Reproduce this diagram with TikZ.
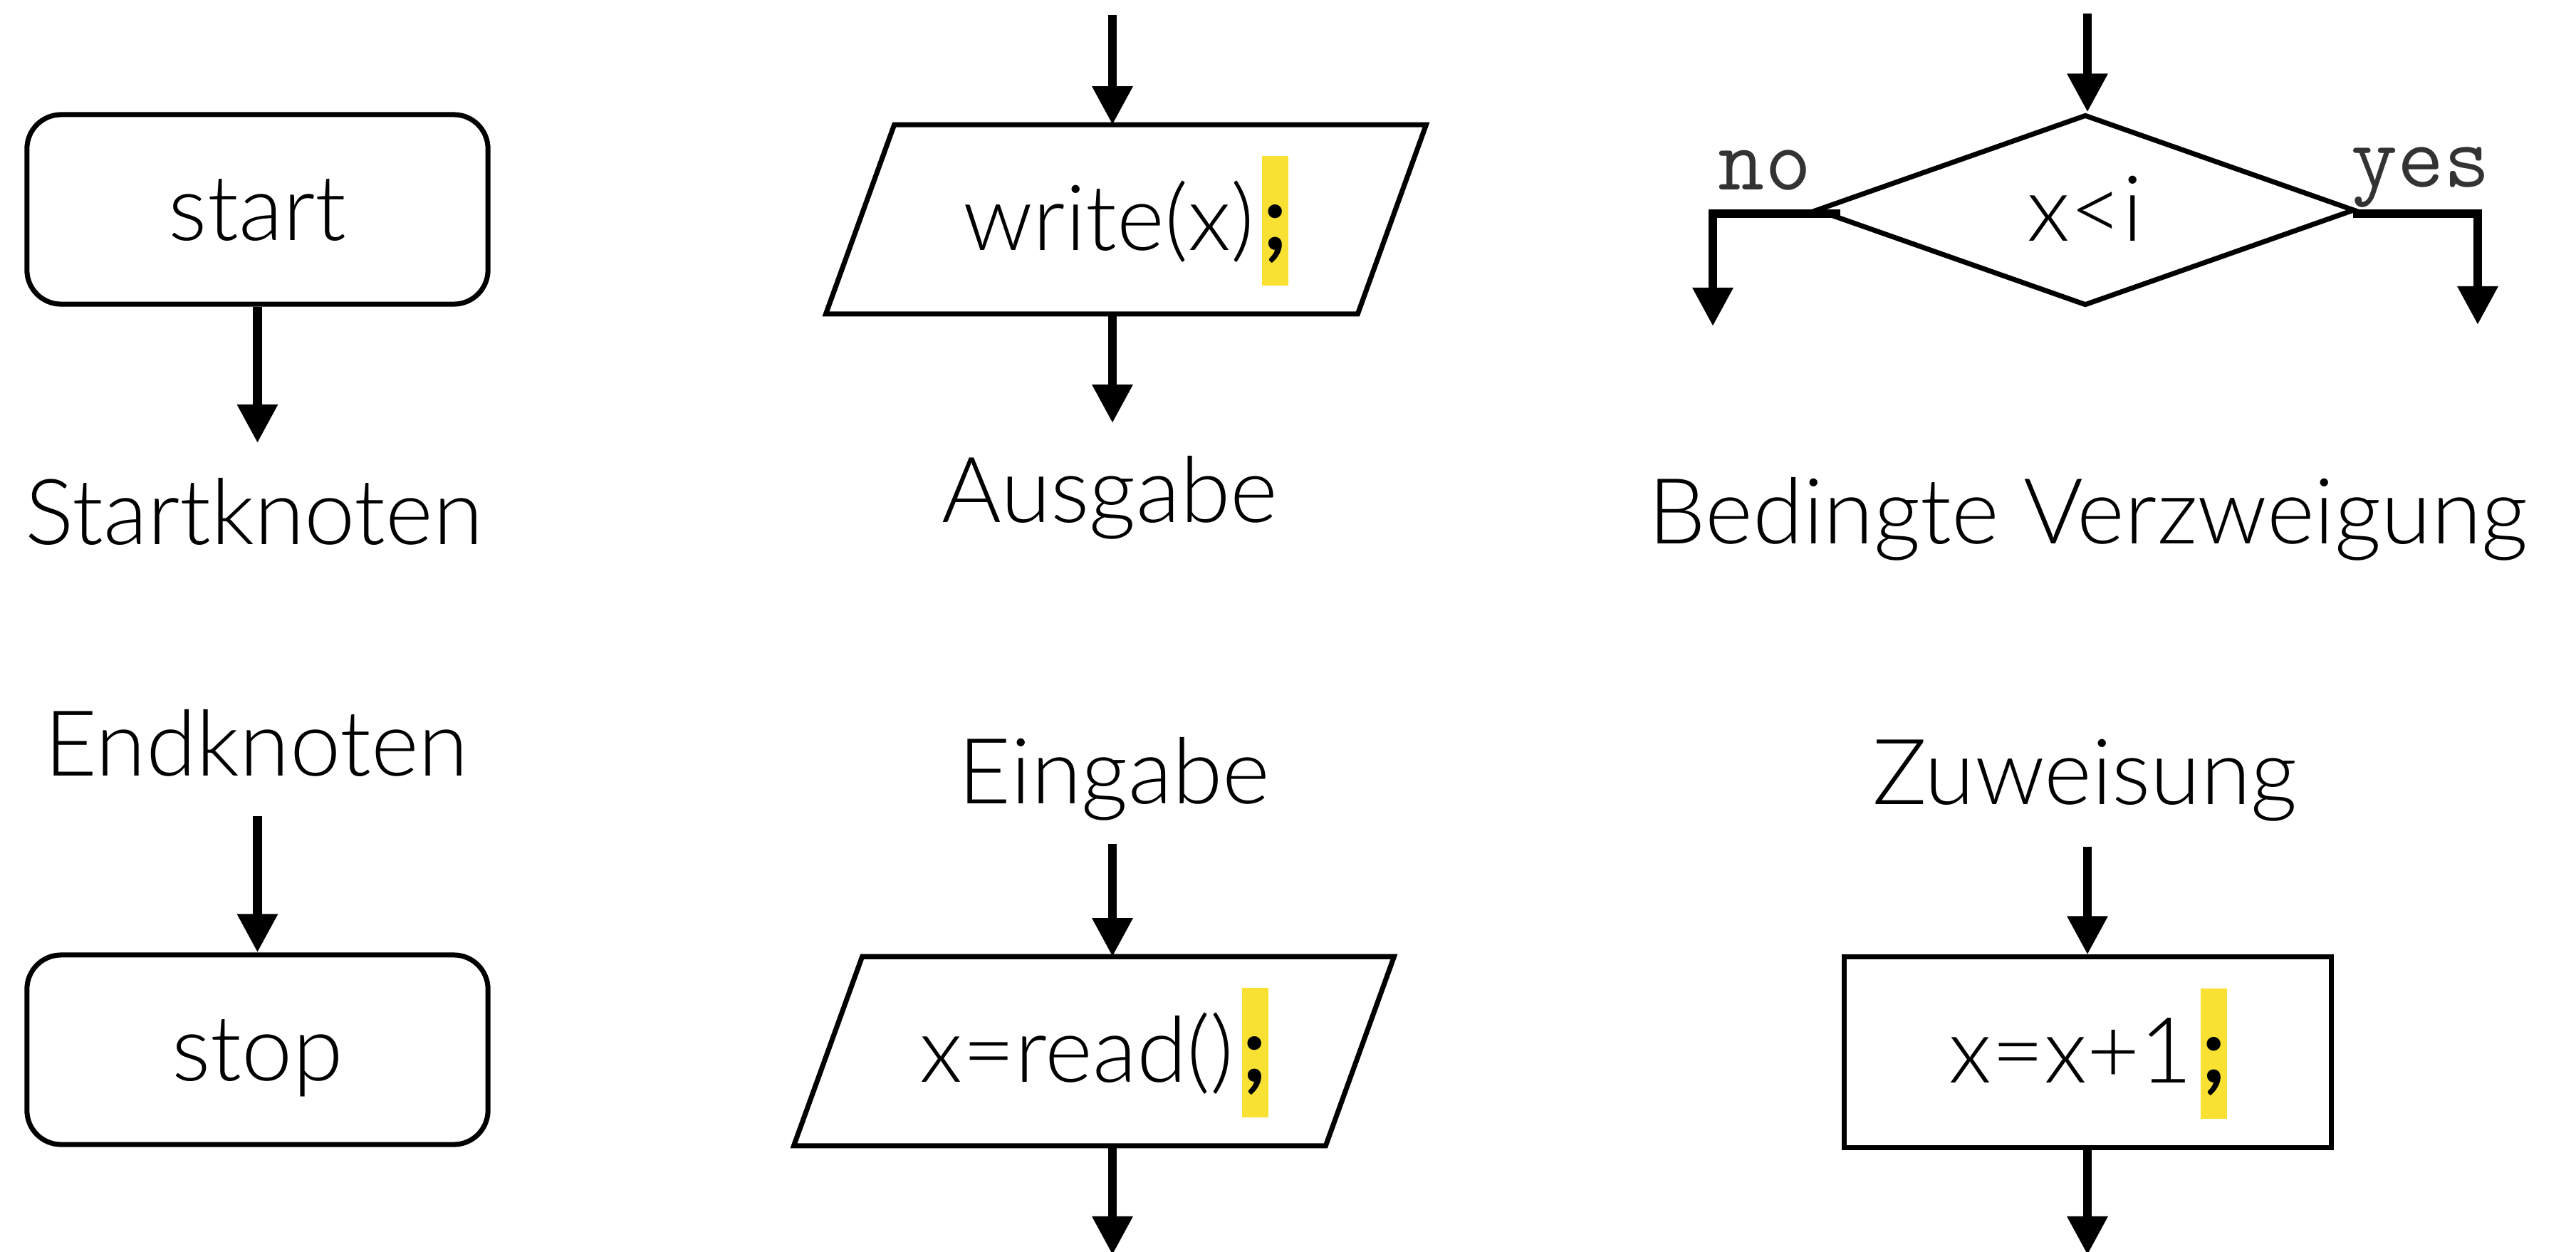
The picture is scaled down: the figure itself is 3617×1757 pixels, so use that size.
\documentclass[tikz,border=0pt]{standalone}
\usepackage{fontspec}
\setmainfont{Lato}[UprightFont=* Light, BoldFont=* Bold]
\usetikzlibrary{shapes.geometric,arrows.meta}
\definecolor{hlyellow}{HTML}{F8E133}
\definecolor{branchgray}{HTML}{333333}

% highlighted statement terminator
\newcommand\hlsemi{\kern0.11cm\rlap{\color{hlyellow}\rule[-0.50cm]{0.37cm}{1.82cm}}\makebox[0.37cm]{\bfseries;}}

\tikzset{
  every node/.style={font=\fontsize{36.4pt}{40pt}\selectfont, inner sep=0pt},
  shapeline/.style={draw, line width=2pt, line join=miter},
  shapetext/.style={text height=0.86cm, text depth=0pt},
  terminal/.style={shapeline, shapetext, rectangle, rounded corners=0.48cm, minimum width=6.47cm, minimum height=2.66cm},
  io/.style={shapetext, rectangle, minimum width=7.45cm, minimum height=2.64cm},
  decision/.style={shapeline, shapetext, diamond, minimum width=7.56cm, minimum height=2.68cm},
  process/.style={shapeline, shapetext, rectangle, minimum width=6.83cm, minimum height=2.67cm},
  flow/.style={line width=3.5pt, -{Triangle[length=0.54cm,width=0.54cm]}},
  caption/.style={anchor=base},
  branchlabel/.style={anchor=base, font=\ttfamily\fontsize{36pt}{40pt}\selectfont, text=branchgray},
}

% slanted frame of an input/output node
\newcommand\ioframe[1]{%
  \draw[shapeline] ([xshift=0.48cm]#1.north west) -- ([xshift=0.48cm]#1.north east)
    -- ([xshift=-0.48cm]#1.south east) -- ([xshift=-0.48cm]#1.south west) -- cycle;}

\begin{document}
\begin{tikzpicture}[x=0.01cm, y=-0.01cm]
  \fill[white] (0,0) rectangle (3617,1757);
  \useasboundingbox (0,0) rectangle (3617,1757);

  % start node
  \node[terminal] (start) at (361.5,294) {start};
  \coordinate (startout) at (361.5,622);
  \draw[flow] (start) -- (startout);
  \node[caption] (startlbl) at (357,764) {Startknoten};

  % end node
  \node[caption] (endlbl) at (360.5,1089) {Endknoten};
  \coordinate (stopin) at (361.5,1146);
  \node[terminal] (stop) at (361.5,1474) {stop};
  \draw[flow] (stopin) -- (stop);

  % output
  \coordinate (writein) at (1562,21);
  \coordinate (writeout) at (1562,594);
  \node[io] (write) at (1581,308) {write(x)\hlsemi};
  \ioframe{write}
  \draw[flow] (writein) -- (writein |- write.north);
  \draw[flow] (writeout |- write.south) -- (writeout);
  \node[caption] (outlbl) at (1558.5,733) {Ausgabe};

  % input
  \node[caption] (inlbl) at (1564.5,1128) {Eingabe};
  \coordinate (readin) at (1562,1185);
  \coordinate (readout) at (1562,1762);
  \node[io] (read) at (1536,1476) {x=read()\hlsemi};
  \ioframe{read}
  \draw[flow] (readin) -- (readin |- read.north);
  \draw[flow] (readout |- read.south) -- (readout);

  % conditional branch
  \coordinate (decin) at (2931,19);
  \node[decision] (dec) at (2928,295) {x<i};
  \draw[flow] (decin) -- (decin |- dec.north);
  \coordinate (noout) at (2405,458);
  \coordinate (yesout) at (3479,456);
  \draw[flow] ([shift={(0.38cm,-0.05cm)}]dec.west) -| (noout);
  \draw[flow] ([shift={(-0.06cm,-0.05cm)}]dec.east) -| (yesout);
  \node[branchlabel] (nolbl) at (2478,266) {no};
  \node[branchlabel] (yeslbl) at (3399,262) {yes};
  \node[caption] (declbl) at (2932,763) {Bedingte Verzweigung};

  % assignment
  \node[caption] (asglbl) at (2927.5,1129) {Zuweisung};
  \coordinate (asgin) at (2931,1189);
  \coordinate (asgout) at (2931,1762);
  \node[process] (asg) at (2931.5,1477.5) {x=x+1\hlsemi};
  \draw[flow] (asgin) -- (asgin |- asg.north);
  \draw[flow] (asgout |- asg.south) -- (asgout);
\end{tikzpicture}
\end{document}
